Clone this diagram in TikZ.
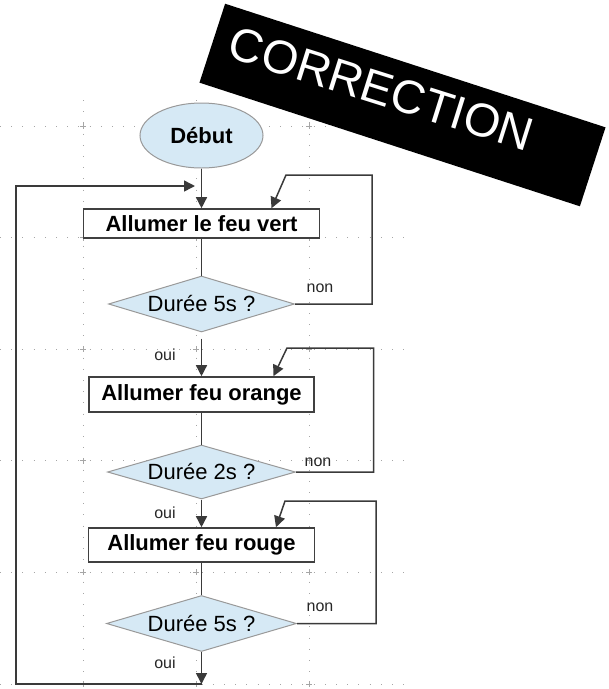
\documentclass[tikz,border=0pt]{standalone}
\usepackage{fontspec}
\setmainfont{Liberation Sans}
\usetikzlibrary{shapes.geometric}
\usetikzlibrary{arrows.meta}

\definecolor{bleuclair}{HTML}{D6E9F5}
\definecolor{trait}{HTML}{3A3A3A}

\begin{document}
\begin{tikzpicture}[x=1pt,y=-1pt,>={Triangle[length=11pt,width=11pt]},
  action/.style={draw=black!75,line width=1.6pt,fill=white,inner sep=0pt,font=\fontsize{22}{22}\selectfont\bfseries},
  test/.style={diamond,aspect=3.4,draw=black!40,line width=1pt,fill=bleuclair,inner sep=0pt,font=\fontsize{22}{22}\selectfont},
  lien/.style={draw=trait,line width=1.5pt},
  rep/.style={font=\fontsize{16}{16}\selectfont,text=black!85},
  grille/.style={black!35,line width=1pt,dash pattern=on 1pt off 10.2pt}]
\useasboundingbox (0,0) rectangle (609,689);
\foreach \y in {126,237.6,349.2,460.8,572.4,684}
  \draw[grille] (0,\y) -- (412,\y);
\foreach \x in {83,196,309}
  \draw[grille] (\x,100) -- (\x,689);
\foreach \x in {83,196,309}
  \foreach \y in {126,237.6,349.2,460.8,572.4,684}
    \draw[black!35,line width=0.8pt] (\x-3,\y) -- (\x+3,\y) (\x,\y-3) -- (\x,\y+3);

\node[ellipse,draw=black!40,line width=1pt,fill=bleuclair,minimum width=123pt,minimum height=65pt,font=\fontsize{22}{22}\selectfont\bfseries] (debut) at (201.5,135.5) {Début};
\node[action,minimum width=236pt,minimum height=29pt] (vert) at (201.5,223.5) {Allumer le feu vert};
\node[test,minimum width=186pt,minimum height=56pt] (test1) at (201.5,304) {Durée 5s ?};
\node[action,minimum width=225pt,minimum height=35pt] (orange) at (201.5,394.5) {Allumer feu orange};
\node[test,minimum width=188pt,minimum height=54pt] (test2) at (201.5,472) {Durée 2s ?};
\node[action,minimum width=226pt,minimum height=34pt] (rouge) at (201.5,545) {Allumer feu rouge};
\node[test,minimum width=190pt,minimum height=56pt] (test3) at (201.5,623.5) {Durée 5s ?};

\node[rep] (non1) at (320,288) {non};
\node[rep] (non2) at (318,462) {non};
\node[rep] (non3) at (320,607) {non};
\node[rep] (oui1) at (165,355) {oui};
\node[rep] (oui2) at (165,513) {oui};
\node[rep] (oui3) at (165,663) {oui};

\coordinate (jonction) at (195,186);
\coordinate (coin) at (16,186);
\coordinate (retour) at (201.5,684);
\coordinate (boucle1) at (372,175);
\coordinate (boucle2) at (373.5,348);
\coordinate (boucle3) at (376,501);

\draw[lien,->] (debut) -- (vert);
\draw[lien] (vert) -- (test1);
\draw[lien,->,shorten <=6pt] (test1) -- (orange);
\draw[lien] (orange) -- (test2);
\draw[lien,->] (test2) -- (rouge);
\draw[lien] (rouge) -- (test3);
\draw[lien,->] (test3) -- (retour);
\draw[lien,->] (retour) -| (coin) -- (jonction);
\draw[lien,->] (test1.east) -| (boucle1) -- ++(-86,0) -- ([xshift=70pt]vert.north);
\draw[lien,->] (test2.east) -| (boucle2) -- ++(-86.5,0) -- ([xshift=72pt]orange.north);
\draw[lien,->] (test3.east) -| (boucle3) -- ++(-91,0) -- ([xshift=74.5pt]rouge.north);

\fill[rotate around={-18:(402.5,105)}] (202.5,63.5) rectangle (602.5,146.5);
\node[text=white,rotate=-17.5,font=\fontsize{47}{47}\selectfont] (correction) at (381.5,89) {CORRECTION};
\end{tikzpicture}
\end{document}
